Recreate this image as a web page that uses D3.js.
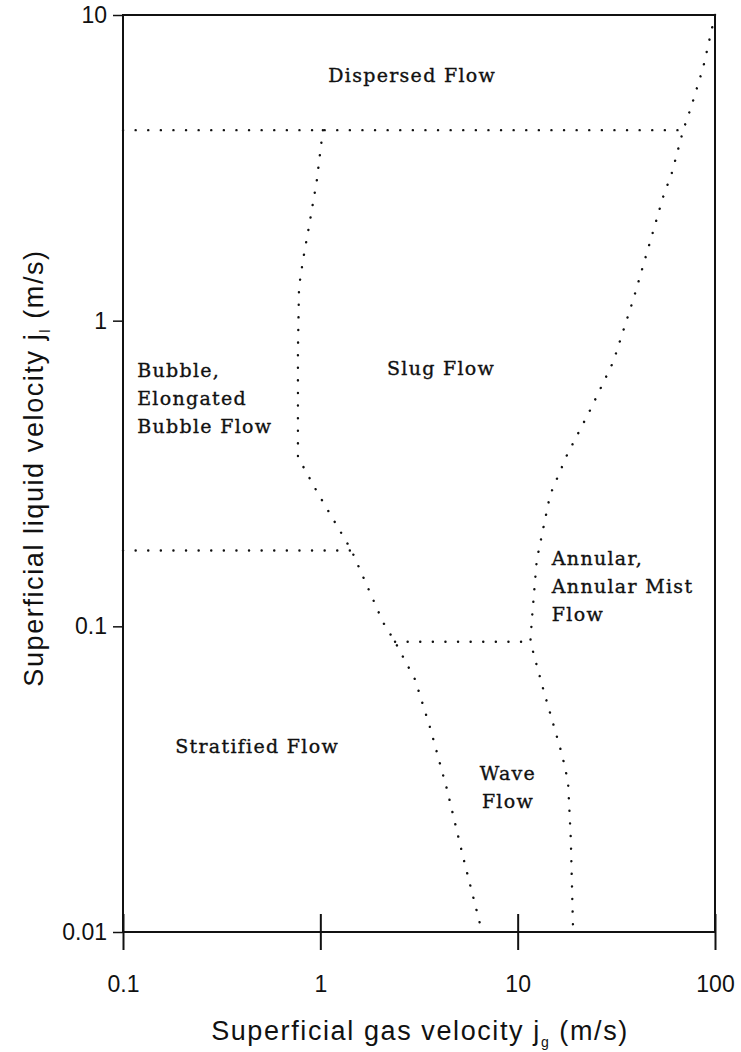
<!DOCTYPE html>
<html>
<head>
<meta charset="utf-8">
<script src="https://cdn.jsdelivr.net/npm/d3@7"></script>
<style>
  body { margin: 0; background: #fff; }
  .tick text { font-family: "Liberation Sans", Arial, sans-serif; font-size: 23px; fill: #111; }
  .region { font-family: "DejaVu Serif", serif; font-size: 19px; letter-spacing: 1.3px; fill: #111; stroke: #111; stroke-width: 0.35px; }
  .title { font-family: "Liberation Sans", Arial, sans-serif; font-size: 27px; letter-spacing: 1.6px; fill: #111; }
</style>
</head>
<body>
<svg id="chart" width="741" height="1052"></svg>
<script>
// axis ticks
const xTicks = [0.1, 1, 10, 100];
const yTicks = [0.01, 0.1, 1, 10];

// regime boundaries, [gas velocity, liquid velocity] in m/s
const dispersedLine = [[0.1, 4.2], [69, 4.2]];
const stratifiedLine = [[0.1, 0.177], [1.44, 0.177]];
const waveLine = [[2.39, 0.089], [11.6, 0.089]];
const bubbleSlugLine = [
  [1.03, 4.2], [0.96, 2.88], [0.887, 2.13], [0.817, 1.58], [0.78, 1.29],
  [0.77, 0.8], [0.77, 0.358], [0.97, 0.273], [1.44, 0.177], [2.08, 0.103],
  [2.39, 0.089], [3.02, 0.067], [3.6, 0.0466], [4.39, 0.0292], [5.29, 0.0176], [6.6, 0.01]
];
const annularLine = [
  [100, 10], [87, 6.71], [75.7, 5.0], [69, 4.2], [60.6, 3.06], [54.6, 2.54],
  [38.5, 1.17], [30.5, 0.733], [23.3, 0.51], [17.8, 0.364], [14.6, 0.269],
  [12.5, 0.165], [11.8, 0.105], [11.6, 0.089], [13.5, 0.062], [16.8, 0.038],
  [18.0, 0.031], [18.6, 0.02], [19.1, 0.01]
];

// region names
const regionNames = [
  ["Dispersed Flow"], ["Slug Flow"], ["Bubble,", "Elongated", "Bubble Flow"],
  ["Annular,", "Annular Mist", "Flow"], ["Stratified Flow"], ["Wave", "Flow"]
];
const regionX = [2.92, 4.09, 0.118, 14.9, 0.478, 8.93];
const regionY = [6.36, 0.70, 0.69, 0.167, 0.0404, 0.0331];
const regionAnchor = ["middle", "middle", "start", "start", "middle", "middle"];

const svg = d3.select('#chart');

const x = d3.scaleLog().domain([0.1, 100]).range([123, 715]);
const y = d3.scaleLog().domain([0.01, 10]).range([932, 15]);

// frame
svg.append('rect')
  .attr('x', x(0.1)).attr('y', y(10))
  .attr('width', x(100) - x(0.1)).attr('height', y(0.01) - y(10))
  .attr('fill', 'none').attr('stroke', '#111').attr('stroke-width', 2);

const xAxis = svg.append('g')
  .attr('transform', `translate(0, ${y(0.01)})`)
  .call(d3.axisBottom(x).tickValues(xTicks).tickFormat(d3.format('')).tickSize(18).tickPadding(26));
xAxis.select('.domain').remove();
xAxis.selectAll('.tick line').attr('y1', -18).attr('stroke', '#111').attr('stroke-width', 2);

const yAxis = svg.append('g')
  .attr('transform', `translate(${x(0.1)}, 0)`)
  .call(d3.axisLeft(y).tickValues(yTicks).tickFormat(d3.format('')).tickSize(10).tickPadding(6));
yAxis.select('.domain').remove();
yAxis.selectAll('.tick line').attr('stroke', '#111').attr('stroke-width', 1.5);

// dotted boundaries
const line = d3.line().x(d => x(d[0])).y(d => y(d[1]));
svg.append('g')
  .selectAll('path')
  .data([dispersedLine, stratifiedLine, waveLine, bubbleSlugLine, annularLine])
  .join('path')
  .attr('d', line)
  .attr('fill', 'none')
  .attr('stroke', '#111')
  .attr('stroke-width', 2.4)
  .attr('stroke-linecap', 'round')
  .attr('stroke-dasharray', '0.1 12.5');

// region labels
const labels = svg.append('g')
  .selectAll('text')
  .data(regionNames)
  .join('text')
  .attr('class', 'region')
  .attr('text-anchor', (d, i) => regionAnchor[i])
  .attr('transform', (d, i) => `translate(${x(regionX[i])}, ${y(regionY[i])})`);
labels.selectAll('tspan')
  .data(d => d)
  .join('tspan')
  .attr('x', 0)
  .attr('y', (d, i) => i * 28)
  .attr('dy', '0.35em')
  .text(d => d);

// axis titles
const xTitle = svg.append('text')
  .attr('class', 'title')
  .attr('text-anchor', 'middle')
  .attr('x', 420).attr('y', 1040);
xTitle.append('tspan').text('Superficial gas velocity j');
xTitle.append('tspan').attr('font-size', 14).attr('dy', 7).text('g');
xTitle.append('tspan').attr('dy', -7).text('\u00a0(m/s)');

const yTitle = svg.append('text')
  .attr('class', 'title')
  .attr('text-anchor', 'middle')
  .attr('transform', 'translate(43, 468) rotate(-90)');
yTitle.append('tspan').text('Superficial liquid velocity j');
yTitle.append('tspan').attr('font-size', 14).attr('dy', 7).text('l');
yTitle.append('tspan').attr('dy', -7).text('\u00a0(m/s)');
</script>
</body>
</html>
